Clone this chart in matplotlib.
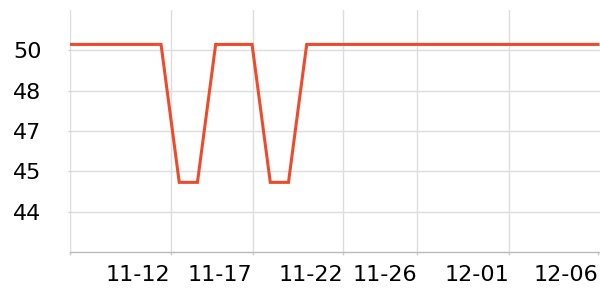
import matplotlib
matplotlib.use('Agg')
import matplotlib.pyplot as plt

# series values, one point per category slot
values = [50.22] * 6 + [45.09] * 2 + [50.22] * 3 + [45.09] * 2 + [50.22] * 17

# x ticks (in category index units) and their labels
x_ticks = [0, 5.53, 10.03, 15.0, 19.07, 24.12, 29.0]
x_labels = ['', '11-12', '11-17', '11-22', '11-26', '12-01', '12-06']

# y ticks and their labels
y_ticks = [44, 45.5, 47, 48.5, 50]
y_labels = ['44', '45', '47', '48', '50']

fig = plt.figure(figsize=(6, 3), dpi=100)
ax = fig.add_axes([70 / 600, 1 - 252 / 300, 530 / 600, 242 / 300])

ax.plot(range(len(values)), values, color='#ee4a2c', linewidth=2.2,
        solid_joinstyle='miter', zorder=3)

ax.set_xlim(0, 29.11)
ax.set_ylim(42.5, 51.5)

ax.set_xticks(x_ticks)
ax.set_xticklabels(x_labels, fontsize=16, ha='right')
ax.set_yticks(y_ticks)
ax.set_yticklabels(y_labels, fontsize=16)

ax.grid(True, color='#dddddd', linewidth=1.0, zorder=0)
ax.xaxis.get_gridlines()[-1].set_visible(False)

ax.tick_params(axis='x', length=2.5, width=1, color='#cccccc', pad=7)
ax.tick_params(axis='y', length=1.5, width=1, color='#cccccc', pad=19)

for side in ['top', 'right', 'left']:
    ax.spines[side].set_visible(False)
ax.spines['bottom'].set_color('#bbbbbb')
ax.spines['bottom'].set_linewidth(1)

fig.savefig('out.png', dpi=100)
